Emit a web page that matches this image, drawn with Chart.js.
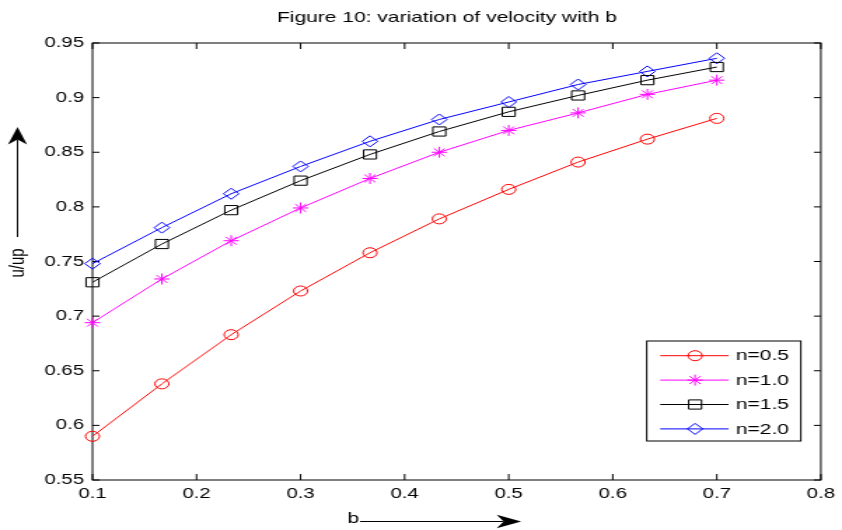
<!DOCTYPE html>
<html>
<head>
<meta charset="utf-8">
<title>Figure 10: variation of velocity with b</title>
<script src="https://cdn.jsdelivr.net/npm/chart.js@4.4.1/dist/chart.umd.min.js"></script>
<style>
  html, body { margin: 0; padding: 0; background: #fff; overflow: hidden; }
  /* the reference figure is stretched sideways, so draw narrow and stretch */
  #chart { display: block; transform: scaleX(1.401); transform-origin: 0 0; }
</style>
</head>
<body>
<canvas id="chart" width="601" height="530"></canvas>
<script>
// Data
const bValues = [0.1, 0.1667, 0.2333, 0.3, 0.3667, 0.4333, 0.5, 0.5667, 0.6333, 0.7];
const seriesLabels = ['n=0.5', 'n=1.0', 'n=1.5', 'n=2.0'];
const velocityN05 = [0.590, 0.638, 0.683, 0.723, 0.758, 0.789, 0.816, 0.841, 0.862, 0.881];
const velocityN10 = [0.694, 0.734, 0.769, 0.799, 0.826, 0.850, 0.870, 0.886, 0.903, 0.916];
const velocityN15 = [0.731, 0.766, 0.797, 0.824, 0.848, 0.869, 0.887, 0.902, 0.916, 0.928];
const velocityN20 = [0.748, 0.781, 0.812, 0.837, 0.860, 0.880, 0.896, 0.912, 0.924, 0.936];
const xTickValues = [0.1, 0.2, 0.3, 0.4, 0.5, 0.6, 0.7, 0.8];
const yTickValues = [0.55, 0.6, 0.65, 0.7, 0.75, 0.8, 0.85, 0.9, 0.95];

const titleText = 'Figure 10: variation of velocity with b';
const xLabel = 'b';
const yLabel = 'u/up';

const FONT = '"Liberation Sans", Arial, Helvetica, sans-serif';

const styles = [
  { color: '#ff0000', pointStyle: 'circle', radius: 5 },
  { color: '#ff00ff', pointStyle: 'star', radius: 5.5 },
  { color: '#000000', pointStyle: 'rect', radius: 6.5 },
  { color: '#0000ff', pointStyle: 'rectRot', radius: 5.5 }
];

const series = [velocityN05, velocityN10, velocityN15, velocityN20];

const datasets = series.map((values, i) => ({
  label: seriesLabels[i],
  data: values.map((v, j) => ({ x: bValues[j], y: v })),
  borderColor: styles[i].color,
  borderWidth: 1,
  pointStyle: styles[i].pointStyle,
  pointRadius: styles[i].radius,
  pointBorderColor: styles[i].color,
  pointBackgroundColor: 'rgba(0,0,0,0)',
  pointBorderWidth: 1,
  tension: 0,
  clip: false
}));

// Arrow with a notched head, pointing from (x0,y0) to (x1,y1)
function drawArrow(ctx, x0, y0, x1, y1) {
  const len = 17.5, half = 6.8, notch = 5;
  const ang = Math.atan2(y1 - y0, x1 - x0);
  const ux = Math.cos(ang), uy = Math.sin(ang);
  const px = -uy, py = ux;
  ctx.beginPath();
  ctx.moveTo(x0, y0);
  ctx.lineTo(x1 - ux * (len - notch), y1 - uy * (len - notch));
  ctx.stroke();
  ctx.beginPath();
  ctx.moveTo(x1, y1);
  ctx.lineTo(x1 - ux * len + px * half, y1 - uy * len + py * half);
  ctx.lineTo(x1 - ux * (len - notch), y1 - uy * (len - notch));
  ctx.lineTo(x1 - ux * len - px * half, y1 - uy * len - py * half);
  ctx.closePath();
  ctx.fill();
}

// MATLAB-like box, inward ticks, labels and legend
const matlabFrame = {
  id: 'matlabFrame',
  beforeDatasetsDraw(chart) {
    const { ctx, chartArea: a, scales } = chart;
    ctx.save();
    ctx.strokeStyle = '#000';
    ctx.lineWidth = 1;
    ctx.strokeRect(a.left, a.top, a.right - a.left, a.bottom - a.top);
    ctx.beginPath();
    scales.x.ticks.forEach(t => {
      const px = scales.x.getPixelForValue(t.value);
      ctx.moveTo(px, a.bottom); ctx.lineTo(px, a.bottom - 6);
      ctx.moveTo(px, a.top); ctx.lineTo(px, a.top + 6);
    });
    scales.y.ticks.forEach(t => {
      const py = scales.y.getPixelForValue(t.value);
      ctx.moveTo(a.left, py); ctx.lineTo(a.left + 5, py);
      ctx.moveTo(a.right, py); ctx.lineTo(a.right - 5, py);
    });
    ctx.stroke();
    ctx.restore();
  },
  afterDraw(chart) {
    const { ctx, chartArea: a } = chart;
    ctx.save();
    ctx.fillStyle = '#000';
    ctx.strokeStyle = '#000';
    ctx.lineWidth = 1;

    // title
    ctx.font = '15px ' + FONT;
    ctx.textAlign = 'center';
    ctx.textBaseline = 'middle';
    ctx.fillText(titleText, (a.left + a.right) / 2 - 7, 18);

    // x label with arrow
    ctx.textAlign = 'left';
    ctx.fillText(xLabel, 248, 519);
    drawArrow(ctx, 257, 521.5, 372, 521.5);

    // y label (rotated) with arrow
    ctx.save();
    ctx.translate(12.5, 263);
    ctx.rotate(-Math.PI / 2);
    ctx.textAlign = 'center';
    ctx.fillText(yLabel, 0, 0);
    ctx.restore();
    drawArrow(ctx, 12.5, 237, 12.5, 127);

    // legend
    const right = a.right - 14.3, bottom = a.bottom - 39;
    const left = right - 110, top = bottom - 100;
    ctx.fillStyle = '#fff';
    ctx.fillRect(left, top, right - left, bottom - top);
    ctx.strokeRect(left, top, right - left, bottom - top);
    ctx.font = '15px ' + FONT;
    ctx.textAlign = 'left';
    ctx.textBaseline = 'middle';
    chart.data.datasets.forEach((ds, i) => {
      const y = top + 14.7 + i * 24.4;
      const st = styles[i];
      ctx.strokeStyle = st.color;
      ctx.beginPath();
      ctx.moveTo(left + 9.6, y);
      ctx.lineTo(left + 58.4, y);
      ctx.stroke();
      ctx.fillStyle = 'rgba(0,0,0,0)';
      Chart.helpers.drawPoint(ctx, { pointStyle: st.pointStyle, radius: st.radius, rotation: 0, borderWidth: 1 }, left + 34.5, y);
      ctx.fillStyle = '#000';
      ctx.fillText(ds.label, left + 63.6, y + 0.5);
    });
    ctx.restore();
  }
};

new Chart(document.getElementById('chart'), {
  type: 'line',
  data: { datasets },
  options: {
    responsive: false,
    devicePixelRatio: 1,
    animation: false,
    layout: { padding: { left: 0, right: 14, top: 43, bottom: 0 } },
    plugins: {
      legend: { display: false },
      tooltip: { enabled: false },
      title: { display: false }
    },
    scales: {
      x: {
        type: 'linear',
        min: 0.1,
        max: 0.8,
        grid: { display: false, drawTicks: false },
        border: { display: false },
        afterBuildTicks: scale => { scale.ticks = xTickValues.map(v => ({ value: v })); },
        afterFit: scale => { scale.height = 50; },
        ticks: {
          padding: 5,
          color: '#000',
          font: { family: FONT, size: 14.5 },
          maxRotation: 0,
          callback: v => v.toFixed(1)
        }
      },
      y: {
        type: 'linear',
        min: 0.55,
        max: 0.95,
        grid: { display: false, drawTicks: false },
        border: { display: false },
        afterBuildTicks: scale => { scale.ticks = yTickValues.map(v => ({ value: v })); },
        afterFit: scale => { scale.width = 66; },
        ticks: {
          padding: 6,
          color: '#000',
          font: { family: FONT, size: 14.5 },
          callback: v => String(Number(v.toFixed(2)))
        }
      }
    }
  },
  plugins: [matlabFrame]
});
</script>
</body>
</html>
